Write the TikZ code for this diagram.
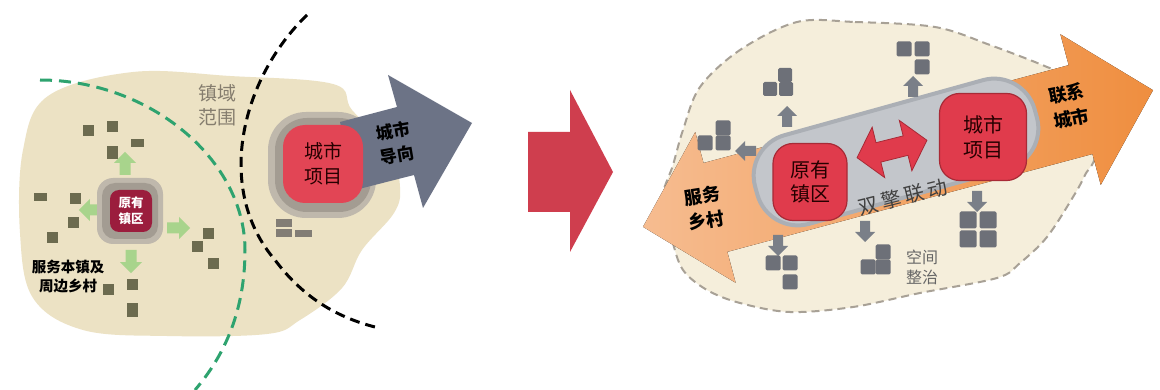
\documentclass[tikz,border=0pt]{standalone}
\usepackage{fontspec}
\newfontfamily\cjk{Noto Sans CJK SC}
\newfontfamily\cjkls[LetterSpace=18]{Noto Sans CJK SC}
\definecolor{blobL}{HTML}{ECE2C4}
\definecolor{blobR}{HTML}{F5EEDB}
\definecolor{blobRb}{HTML}{A8A196}
\definecolor{olivesq}{HTML}{6C6B4F}
\definecolor{darkred}{HTML}{9B1D3D}
\definecolor{haloA}{HTML}{BFB8AC}
\definecolor{haloB}{HTML}{A39C92}
\definecolor{redbox}{HTML}{E03B4C}
\definecolor{redline}{HTML}{A82A36}
\definecolor{slate}{HTML}{6C7386}
\definecolor{bandfill}{HTML}{C3C6CB}
\definecolor{banddraw}{HTML}{ABAFB5}
\definecolor{sqgray}{HTML}{6D7078}
\definecolor{arrgray}{HTML}{7A7F88}
\definecolor{greenarr}{HTML}{A8D48C}
\definecolor{greendash}{HTML}{2EA36F}
\definecolor{orangeL}{HTML}{F6BC90}
\definecolor{orangeR}{HTML}{EF8E3F}
\definecolor{bigred}{HTML}{CF3E4E}
\definecolor{txtgray}{HTML}{857D6E}
\newcommand\blockarrow[5]{\fill[#1, shift={(#2,#3)}, rotate=#4, scale=#5] (0,-11) -- (10,-1) -- (5,-1) -- (5,10) -- (-5,10) -- (-5,-1) -- (-10,-1) -- cycle;}
\newcommand\osq[4]{\fill[olivesq] (#1-#3/2,#2-#4/2) rectangle ++(#3,#4);}
\newcommand\gsq[3]{\fill[sqgray, rounded corners=1.5pt] (#1-#3/2,#2-#3/2) rectangle ++(#3,#3);}
\begin{document}
\begin{tikzpicture}[x=1pt,y=-1pt,
  lbl/.style={font=\cjk, align=center, inner sep=0pt},
  boldlbl/.style={lbl, font=\cjk\bfseries},
  rbox/.style={draw=redline, line width=1.2pt, fill=redbox, rounded corners=20pt, inner sep=0pt, align=center, font=\cjk, text=black!85!red},
  dashblack/.style={draw=black, line width=3pt, dash pattern=on 10pt off 6pt},
  dashgreen/.style={draw=greendash, line width=3pt, dash pattern=on 12pt off 7pt}]
\fill[white] (0,0) rectangle (1160,390);
\useasboundingbox (0,0) rectangle (1160,390);

% ================= LEFT PART =================
\fill[blobL] plot[smooth cycle, tension=0.6] coordinates {(48,96) (133,72) (230,76) (333,84) (352,110) (390,150) (400,187) (394,213) (362,250) (342,288) (300,320) (267,334) (167,336) (83,330) (33,298) (20,233) (23,150)};

\draw[dashgreen] (40,80) .. controls (150,80) and (245,160) .. (245,250) .. controls (245,310) and (225,355) .. (195,390);
\draw[dashblack] (307,15) .. controls (240,80) and (215,190) .. (275,260) .. controls (305,300) and (340,318) .. (375,327);

% olive squares
\osq{88}{131}{11}{11}
\osq{112}{127}{11}{11}
\osq{137}{143}{13}{8}
\osq{112}{153}{11}{13}
\osq{40}{197}{13}{8}
\osq{75}{199}{11}{11}
\osq{73}{223}{11}{11}
\osq{52}{238}{11}{11}
\osq{208}{234}{11}{11}
\osq{197}{247}{11}{11}
\osq{213}{264}{11}{11}
\osq{108}{290}{11}{11}
\osq{132}{285}{11}{11}
\osq{132}{310}{11}{13}

% green arrows
\blockarrow{greenarr}{125}{164}{0}{1.1}
\blockarrow{greenarr}{91}{210}{90}{1.1}
\blockarrow{greenarr}{178}{228}{-90}{1.1}
\blockarrow{greenarr}{131}{261}{180}{1.1}

% original town
\node[fill=haloA, rounded corners=16pt, minimum size=66pt, inner sep=0pt] (lhaloA) at (130,211) {};
\node[fill=haloB, rounded corners=13pt, minimum size=56pt, inner sep=0pt] (lhaloB) at (130,211) {};
\node[fill=darkred, rounded corners=9pt, minimum size=42pt, inner sep=0pt, align=center, text=white, font=\cjk\bfseries\fontsize{12.5}{16}\selectfont] (ltown) at (131,211) {原有\\镇区};

\node[boldlbl, font=\cjk\bfseries\fontsize{14.5}{19}\selectfont] (lserve) at (68,277) {服务本镇及\\周边乡村};
\node[lbl, text=txtgray, font=\cjk\fontsize{19}{24}\selectfont] (lrange) at (217,105) {镇域\\范围};

% small gray rects near city
\fill[haloB!80!black] (276,219) rectangle (292,227);
\fill[haloB!80!black] (276,229) rectangle (292,237);
\fill[haloB!80!black] (295,230) rectangle (312,237);

% city project (left)
\node[fill=haloA, rounded corners=38pt, minimum width=108pt, minimum height=106pt, inner sep=0pt] (chaloA) at (322,165) {};
\node[fill=haloB, rounded corners=32pt, minimum width=96pt, minimum height=94pt, inner sep=0pt] (chaloB) at (323,165) {};
\fill[slate] (340,122) -- (397,107) -- (388,75) -- (472,123) -- (423,208) -- (414,175) -- (355,190) -- cycle;
\node[rbox, draw=none, fill=redbox!95!white, rounded corners=22pt, minimum width=80pt, minimum height=78pt, font=\cjk\fontsize{19}{25}\selectfont] (lcity) at (323,164) {城市\\项目};
\node[boldlbl, rotate=10, font=\cjk\bfseries\fontsize{17}{24}\selectfont] (ldir) at (395,143) {城市\\导向};

% ================= MIDDLE ARROW =================
\fill[bigred] (528,132) -- (570,132) -- (570,90) -- (613,172) -- (570,252) -- (570,212) -- (528,212) -- cycle;

% ================= RIGHT PART =================
\filldraw[fill=blobR, draw=blobRb, line width=2pt, dash pattern=on 8pt off 5pt] plot[smooth cycle, tension=0.55] coordinates {(797,22) (855,22) (935,27) (990,45) (1047,67) (1075,82) (1095,150) (1085,175) (1073,197) (1047,237) (1020,263) (997,278) (920,293) (853,307) (790,312) (740,303) (707,290) (683,270) (672,240) (662,200) (673,165) (683,130) (700,87) (740,50)};

\begin{scope}[shift={(898,158.5)}, rotate=15]
\fill[left color=orangeL, right color=orangeR] (-264,0) -- (-189,-78) -- (-189,-46) -- (189,-46) -- (189,-78) -- (264,0) -- (189,78) -- (189,46) -- (-189,46) -- (-189,78) -- cycle;
\end{scope}

\node[fill=bandfill, draw=banddraw, line width=4pt, rotate=15.5, minimum width=290pt, minimum height=92pt, rounded corners=42pt, inner sep=0pt] (band) at (896,152) {};

\node[rbox, minimum width=74pt, minimum height=77pt, font=\cjk\fontsize{20}{24}\selectfont] (rold) at (810,182) {原有\\镇区};
\node[rbox, minimum width=87pt, minimum height=87pt, font=\cjk\fontsize{20}{25}\selectfont] (rcity) at (983,137) {城市\\项目};

\begin{scope}[shift={(892,149)}, rotate=14]
\filldraw[fill=redbox, draw=redline, line width=0.8pt] (-36,0) -- (-14,-26) -- (-14,-10) -- (14,-10) -- (14,-26) -- (36,0) -- (14,26) -- (14,10) -- (-14,10) -- (-14,26) -- cycle;
\end{scope}

\node[lbl, rotate=14, text=black!75, font=\cjkls\fontsize{20}{22}\selectfont] (twin) at (903,197) {双擎联动};

% gray arrows and square clusters
\blockarrow{arrgray}{913}{87}{0}{1}
\gsq{904}{49}{15}\gsq{922}{49}{15}\gsq{922}{67}{15}
\blockarrow{arrgray}{787}{117}{0}{1}
\gsq{785}{75}{14}\gsq{770}{89}{14}\gsq{786}{89}{14}
\blockarrow{arrgray}{746}{151}{90}{1}
\gsq{723}{128}{15}\gsq{705}{143}{15}\gsq{723}{143}{15}
\blockarrow{arrgray}{778}{245}{180}{1}
\gsq{773}{263}{15}\gsq{790}{263}{15}\gsq{790}{282}{15}
\blockarrow{arrgray}{865}{231}{180}{1}
\gsq{883}{252}{15}\gsq{868}{267}{15}\gsq{883}{267}{15}
\blockarrow{arrgray}{977}{201}{180}{1}
\gsq{968}{220}{17}\gsq{988}{220}{17}\gsq{968}{239}{17}\gsq{988}{239}{17}

\node[lbl, text=black!60, font=\cjk\fontsize{16}{20}\selectfont] (rspace) at (922,267) {空间\\整治};
\node[boldlbl, rotate=9, font=\cjk\bfseries\fontsize{18}{25}\selectfont] (rserve) at (704,208) {服务\\乡村};
\node[boldlbl, rotate=11, font=\cjk\bfseries\fontsize{18}{25}\selectfont] (rlink) at (1069,106) {联系\\城市};
\end{tikzpicture}
\end{document}
